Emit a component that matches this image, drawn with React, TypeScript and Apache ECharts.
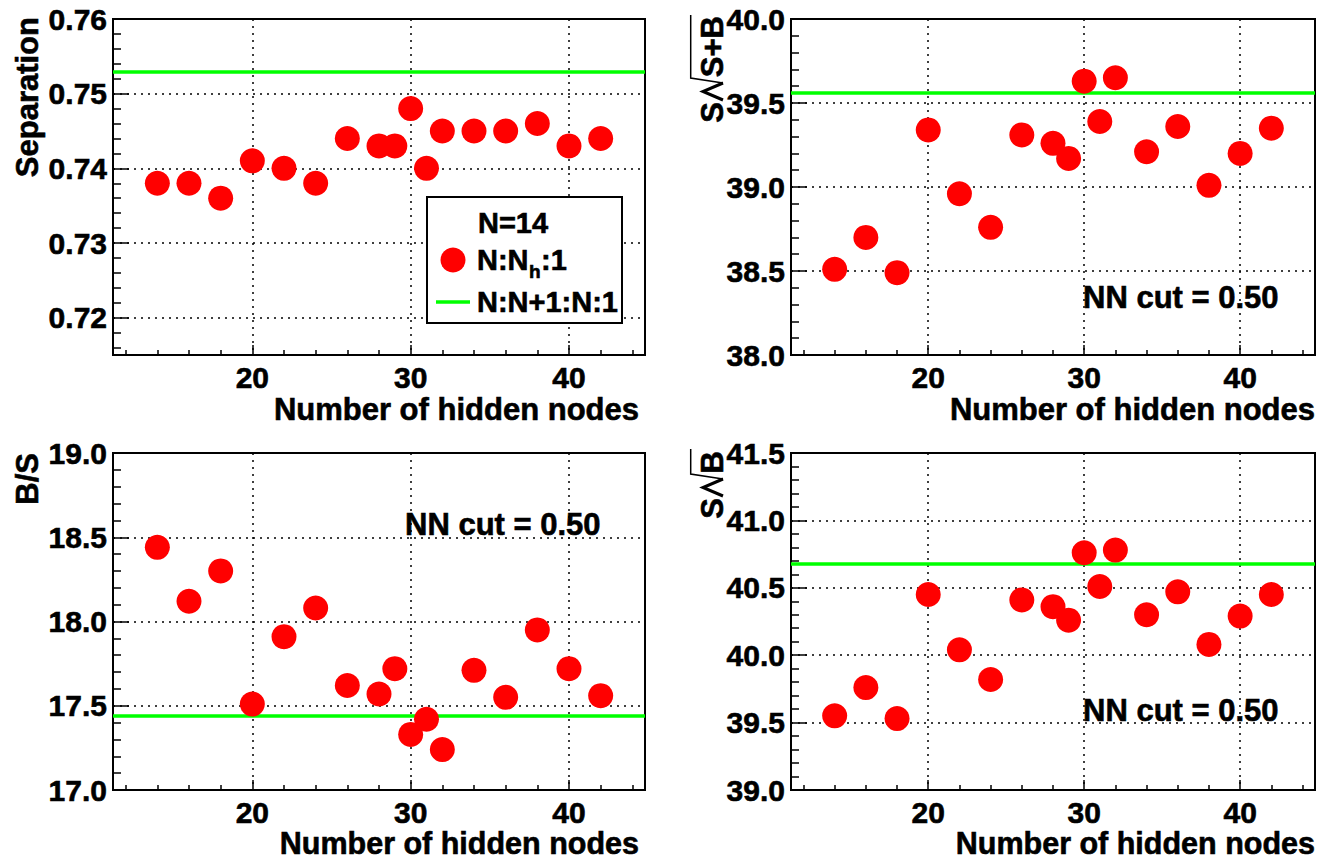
import React, { useEffect, useRef } from "react";
import * as echarts from "echarts";

// ---- data ----
const hiddenNodes = [14, 16, 18, 20, 22, 24, 26, 28, 29, 30, 31, 32, 34, 36, 38, 40, 42];
const separation = [0.738, 0.738, 0.736, 0.741, 0.740, 0.738, 0.744, 0.743, 0.743, 0.748, 0.740, 0.745, 0.745, 0.745, 0.746, 0.743, 0.744];
const sOverSqrtSB = [38.51, 38.70, 38.49, 39.34, 38.96, 38.76, 39.31, 39.26, 39.17, 39.63, 39.39, 39.65, 39.21, 39.36, 39.01, 39.20, 39.35];
const bOverS = [18.44, 18.12, 18.30, 17.51, 17.91, 18.08, 17.62, 17.57, 17.72, 17.33, 17.42, 17.24, 17.71, 17.55, 17.95, 17.72, 17.56];
const sOverSqrtB = [39.55, 39.76, 39.53, 40.45, 40.04, 39.82, 40.41, 40.36, 40.26, 40.76, 40.51, 40.78, 40.30, 40.47, 40.08, 40.29, 40.45];

// reference network N:N+1:N:1
const refSeparation = 0.753;
const refSOverSqrtSB = 39.56;
const refBOverS = 17.44;
const refSOverSqrtB = 40.68;

const xRange = [11.2, 44.8];
const yRanges = [
  [0.715, 0.76],
  [38.0, 40.0],
  [17.0, 19.0],
  [39.0, 41.5],
];
const yDecimals = [2, 1, 1, 1];
const legendHeader = "N=14";
const legendLabels = ["N:N", "h", ":1", "N:N+1:N:1"];
const cutLabel = "NN cut = 0.50";
const xTitle = "Number of hidden nodes";

const FONT = '"Liberation Sans", Arial, sans-serif';

export default function App() {
  const ref = useRef<HTMLDivElement>(null);
  useEffect(() => {
    if (!ref.current) return;
    const chart = echarts.init(ref.current, null, { renderer: "svg" });

    const grids = [
      { left: 113, top: 19, width: 532, height: 336 },
      { left: 791, top: 19, width: 524, height: 336 },
      { left: 113, top: 453, width: 532, height: 337 },
      { left: 791, top: 453, width: 524, height: 337 },
    ];
    const seriesVals = [separation, sOverSqrtSB, bOverS, sOverSqrtB];
    const refVals = [refSeparation, refSOverSqrtSB, refBOverS, refSOverSqrtB];

    const labelStyle = {
      color: "#000",
      fontSize: 30,
      lineHeight: 26,
      fontWeight: "bold",
      fontFamily: FONT,
      textBorderColor: "#000",
      textBorderWidth: 0.6,
    };
    const tickLine = { color: "#000", width: 1.5 };
    const gridLine = { color: "#000", width: 1.5, type: [2, 5] };

    const xAxes = grids.map((_, i) => ({
      gridIndex: i,
      type: "value",
      min: xRange[0],
      max: xRange[1],
      splitNumber: 3,
      axisLine: { show: true, onZero: false, lineStyle: { color: "#000", width: 2 } },
      axisTick: { show: true, inside: true, length: 10, lineStyle: tickLine },
      minorTick: { show: true, splitNumber: 5, length: 5, lineStyle: tickLine },
      axisLabel: { ...labelStyle, margin: 9, showMinLabel: false, showMaxLabel: false },
      splitLine: { show: true, showMinLine: false, showMaxLine: false, lineStyle: gridLine },
    }));

    const yAxes = grids.map((_, i) => ({
      gridIndex: i,
      type: "value",
      min: yRanges[i][0],
      max: yRanges[i][1],
      ...(i === 0 ? { splitNumber: 4 } : { interval: 0.5 }),
      axisLine: { show: true, onZero: false, lineStyle: { color: "#000", width: 2 } },
      axisTick: { show: true, inside: true, length: 16, lineStyle: tickLine },
      minorTick: { show: true, splitNumber: 5, length: 8, lineStyle: tickLine },
      axisLabel: {
        ...labelStyle,
        margin: 6,
        showMinLabel: i !== 0,
        showMaxLabel: true,
        formatter: (v: number) => v.toFixed(yDecimals[i]),
      },
      splitLine: { show: true, showMinLine: false, showMaxLine: false, lineStyle: gridLine },
    }));

    const series = grids.map((_, i) => ({
      type: "scatter",
      xAxisIndex: i,
      yAxisIndex: i,
      symbol: "circle",
      symbolSize: 25,
      z: 3,
      itemStyle: { color: "#ff0000", opacity: 1 },
      data: hiddenNodes.map((x, j) => [x, seriesVals[i][j]]),
      markLine: {
        silent: true,
        z: 1,
        precision: 5,
        symbol: ["none", "none"],
        label: { show: false },
        lineStyle: { color: "#00ff00", width: 3.5, type: "solid", opacity: 1 },
        data: [{ yAxis: refVals[i] }],
      },
    }));

    const txt = (text: string, x: number, y: number, align: string, size = 31, extra: any = {}) => ({
      type: "text",
      x,
      y,
      z: 10,
      ...extra,
      style: {
        text,
        x: 0,
        y: 0,
        fill: "#000",
        stroke: "#000",
        lineWidth: 0.6,
        lineHeight: Math.round(size * 0.85),
        font: `bold ${size}px ${FONT}`,
        textAlign: align,
        textVerticalAlign: "middle",
      },
    });
    const rot = { rotation: Math.PI / 2 };
    const line = (pts: number[][], w: number) => ({
      type: "polyline",
      z: 10,
      shape: { points: pts },
      style: { stroke: "#000", lineWidth: w, fill: null },
    });

    const graphic: any[] = [
      // x titles
      txt(xTitle, 639, 409, "right"),
      txt(xTitle, 1315, 409, "right"),
      txt(xTitle, 639, 843, "right", 30.5),
      txt(xTitle, 1315, 843, "right", 30.5),
      // y titles
      txt("Separation", 27, 17, "right", 31, rot),
      txt("B/S", 27, 453, "right", 31, rot),
      // S/sqrt(S+B)
      txt("S+B", 712.5, 16, "right", 31, rot),
      txt("S", 712.5, 102, "right", 31, rot),
      line([[723, 100], [703, 91.5], [723, 83]], 3),
      line([[723, 83], [690.7, 78], [690.7, 15]], 1.5),
      // S/sqrt(B)
      txt("B", 712.5, 451, "right", 31, rot),
      txt("S", 712.5, 498, "right", 31, rot),
      line([[723, 496], [703, 487.5], [723, 479]], 3),
      line([[723, 479], [690.7, 474], [690.7, 449]], 1.5),
      // NN cut labels
      txt(cutLabel, 1083, 297, "left"),
      txt(cutLabel, 405, 524, "left"),
      txt(cutLabel, 1083, 710, "left"),
      // legend box
      {
        type: "rect",
        z: 8,
        shape: { x: 427, y: 197, width: 195, height: 126 },
        style: { fill: "#fff", stroke: "#000", lineWidth: 2 },
      },
      txt(legendHeader, 513, 223, "center", 29),
      {
        type: "circle",
        z: 10,
        shape: { cx: 453, cy: 260, r: 12.5 },
        style: { fill: "#ff0000" },
      },
      txt(legendLabels[0], 477, 260, "left", 29),
      txt(legendLabels[1], 529, 271, "left", 19),
      txt(legendLabels[2], 541, 260, "left", 29),
      {
        type: "line",
        z: 10,
        shape: { x1: 436, y1: 302, x2: 470, y2: 302 },
        style: { stroke: "#00ff00", lineWidth: 3.5 },
      },
      txt(legendLabels[3], 477, 302, "left", 29),
    ];

    chart.setOption({
      animation: false,
      backgroundColor: "#fff",
      grid: grids.map((g) => ({ ...g, show: true, borderColor: "#000", borderWidth: 2, backgroundColor: "transparent" })),
      xAxis: xAxes,
      yAxis: yAxes,
      series,
      graphic,
    } as any);

    return () => chart.dispose();
  }, []);

  return (
    <div
      ref={ref}
      style={{ position: "absolute", left: 0, top: 0, width: 1319, height: 859, background: "#fff" }}
    />
  );
}
